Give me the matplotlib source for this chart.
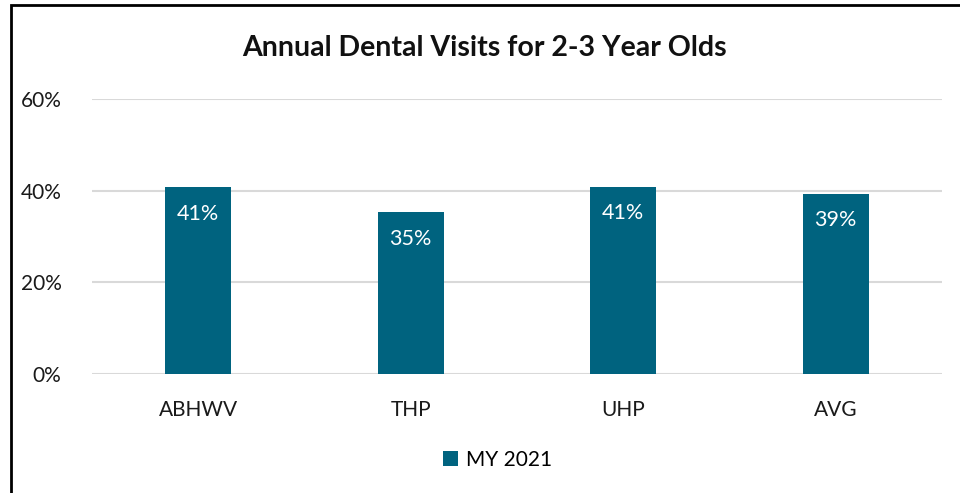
import matplotlib.pyplot as plt
from matplotlib.patches import Rectangle
from matplotlib.ticker import PercentFormatter

plans = ["ABHWV", "THP", "UHP", "AVG"]
visits_2021 = [0.408, 0.353, 0.409, 0.393]
series_name = "MY 2021"
y_ticks = [0, 0.2, 0.4, 0.6]

bar_color = "#00637f"
grid_color = "#d9d9d9"

plt.rcParams["font.family"] = ["Lato", "DejaVu Sans"]

fig = plt.figure(figsize=(9.6, 4.93), dpi=100)
ax = fig.add_axes([0.0958, 0.2414, 0.8854, 0.5578])

x = range(len(plans))
bars = ax.bar(x, visits_2021, width=0.31, color=bar_color, zorder=3, label=series_name)

for b, v in zip(bars, visits_2021):
    ax.text(b.get_x() + b.get_width() / 2, v - 0.058, f"{v * 100:.0f}%",
            ha="center", va="center", color="white", fontsize=15.5)

ax.set_xlim(-0.5, len(plans) - 0.5)
ax.set_ylim(0, 0.6)
ax.set_yticks(y_ticks)
ax.yaxis.set_major_formatter(PercentFormatter(1.0, decimals=0))
ax.set_xticks(list(x))
ax.set_xticklabels(plans)
ax.tick_params(axis="both", length=0, labelsize=15, colors="#1a1a1a")
ax.tick_params(axis="y", pad=22)
ax.tick_params(axis="x", pad=19)
ax.grid(axis="y", color=grid_color, linewidth=1.5, zorder=0)
for s in ax.spines.values():
    s.set_visible(False)

fig.text(0.505, 0.903, "Annual Dental Visits for 2-3 Year Olds", ha="center", va="center",
         fontsize=20.5, fontweight="bold", color="#111111")

fig.legend(loc="center", bbox_to_anchor=(0.518, 0.067), frameon=False, fontsize=15,
           handlelength=0.75, handleheight=0.75, handletextpad=0.35)

# outer frame of the figure box
fig.patches.append(Rectangle((11 / 960, -0.05), 1.1, 1 - 5 / 493 + 0.05, transform=fig.transFigure,
                             fill=False, edgecolor="black", linewidth=2, clip_on=False))

fig.savefig("out.png", dpi=100)
